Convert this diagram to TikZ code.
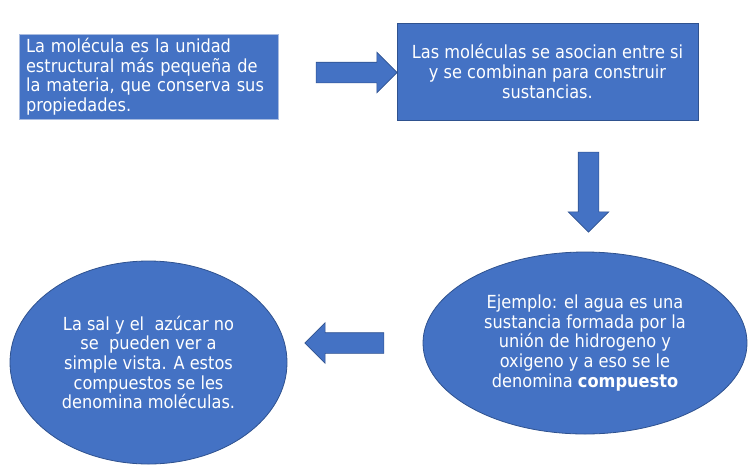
\documentclass[tikz,border=0pt]{standalone}
\usepackage{fontspec}
\setmainfont{DejaVu Sans Condensed}
\usetikzlibrary{shapes.geometric,shapes.arrows}
\definecolor{boxblue}{HTML}{4472C4}
\definecolor{edgeblue}{HTML}{2F528F}
\definecolor{lightedge}{HTML}{A9BCE0}
\tikzset{
  txt/.style={text=white,font=\fontsize{18}{19.6}\selectfont},
  rbox/.style={txt,rectangle,fill=boxblue,draw=edgeblue,line width=0.8pt,inner sep=0pt},
  bubble/.style={txt,ellipse,fill=boxblue,draw=edgeblue,line width=0.8pt,inner sep=0pt,align=center},
  fat/.style={single arrow,fill=boxblue,draw=edgeblue,line width=0.6pt,inner xsep=0pt,
    inner ysep=10pt,single arrow head extend=10pt,minimum width=40pt}
}
\begin{document}
\begin{tikzpicture}[x=1pt,y=-1pt]
  \useasboundingbox (0,0) rectangle (755,467);

  %% boxes
  \node[rbox,draw=lightedge,minimum width=259pt,minimum height=85pt,
    text width=245pt,align=left] (mol) at (148.5,76.5)
  {La molécula es la unidad\\estructural más pequeña de\\la materia, que conserva sus\\propiedades.};
  \node[rbox,minimum width=301pt,minimum height=97pt,align=center] (sust) at (547.5,71.5)
  {Las moléculas se asocian entre si\\y se combinan para construir\\sustancias.};

  %% ellipses
  \node[bubble,minimum width=324pt,minimum height=182pt] (ejem) at (585,343)
  {Ejemplo: el agua es una\\sustancia formada por la\\unión de hidrogeno y\\oxigeno y a eso se le\\denomina \textbf{compuesto}};
  \node[bubble,minimum width=277pt,minimum height=203pt] (sal) at (148.5,362.5)
  {La sal y el\ \ azúcar no\\se\ \ pueden ver a\\simple vista. A estos\\compuestos se les\\denomina moléculas.};

  %% block arrows
  \node[fat,minimum height=81pt] (ar1) at (351.5,72.5) {}; %% mol -> sust
  \node[fat,minimum height=80pt,rotate=-90] (ar2) at (588.5,187) {}; %% sust -> ejem
  \node[fat,minimum height=79pt,rotate=180] (ar3) at (349.5,343) {}; %% ejem -> sal

\end{tikzpicture}
\end{document}
